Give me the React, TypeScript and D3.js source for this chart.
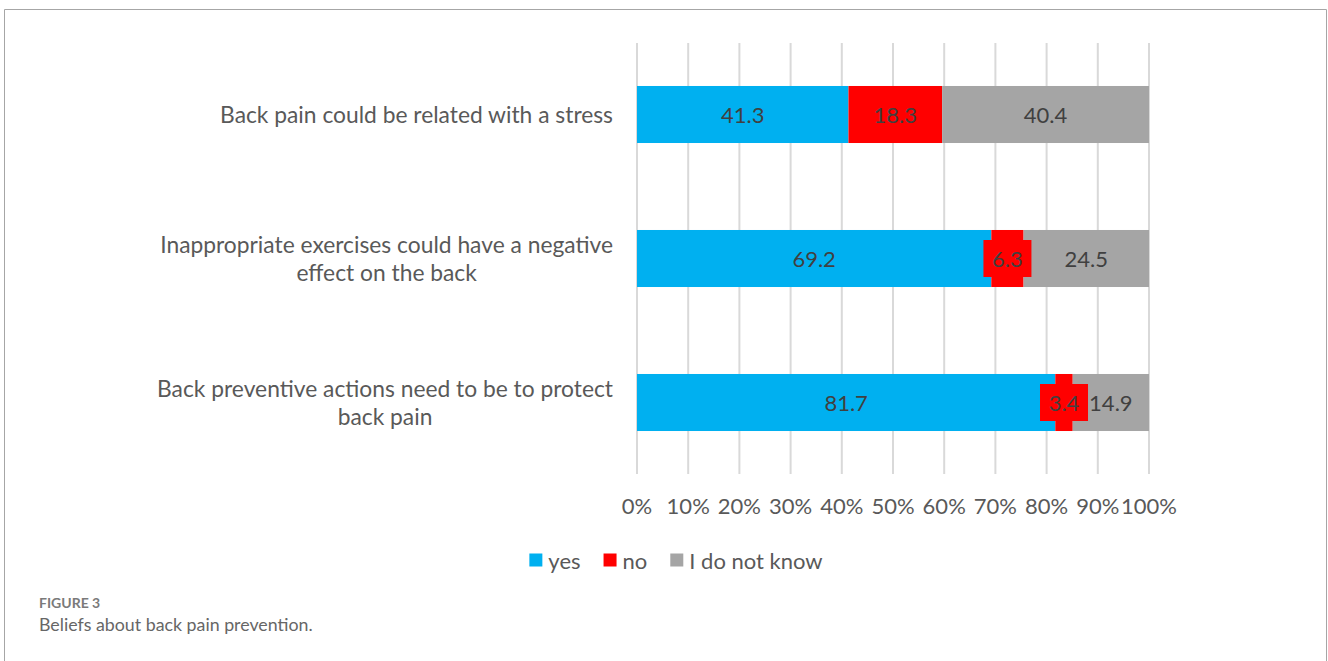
import React, { useEffect, useRef } from "react";
import * as d3 from "d3";

const categoryLines: string[][] = [
  ["Back pain could be related with a stress"],
  ["Inappropriate exercises could have a negative", "effect on the back"],
  ["Back preventive actions need to be to protect", "back pain"],
];
const seriesNames = ["yes", "no", "I do not know"];
const yesValues = [41.3, 69.2, 81.7];
const noValues = [18.3, 6.3, 3.4];
const dontKnowValues = [40.4, 24.5, 14.9];
const tickValues = [0, 10, 20, 30, 40, 50, 60, 70, 80, 90, 100];
const seriesColors = ["#00B0F0", "#FF0000", "#A5A5A5"];
const figureLabel = "FIGURE 3";
const captionText = "Beliefs about back pain prevention.";

const W = 1328;
const H = 661;
const FONT = "Lato, 'Open Sans', sans-serif";

export default function App() {
  const ref = useRef<SVGSVGElement | null>(null);

  useEffect(() => {
    const svg = d3.select(ref.current);
    svg.selectAll("*").remove();

    const rows = categoryLines.map((lines, i) => ({
      key: String(i),
      lines,
      yes: yesValues[i],
      no: noValues[i],
      dk: dontKnowValues[i],
    }));
    const keys = ["yes", "no", "dk"];

    const x = d3.scaleLinear().domain([0, 100]).range([637, 1149]);
    const y = d3
      .scaleBand<string>()
      .domain(rows.map((r) => r.key))
      .range([42.5, 474.5])
      .paddingInner(0.604)
      .paddingOuter(0.302);

    // frame
    svg
      .append("path")
      .attr("d", `M4.5,${H} V9.5 H1326.5 V${H}`)
      .attr("fill", "none")
      .attr("stroke", "#a6a6a6")
      .attr("stroke-width", 1);

    // gridlines
    svg
      .append("g")
      .selectAll("line")
      .data(tickValues)
      .join("line")
      .attr("x1", (d) => x(d))
      .attr("x2", (d) => x(d))
      .attr("y1", 43)
      .attr("y2", 474)
      .attr("stroke", "#D9D9D9")
      .attr("stroke-width", 2);

    // bars
    const stack = d3.stack<any>().keys(keys)(rows);
    const gBars = svg.append("g");
    stack.forEach((layer, si) => {
      gBars
        .append("g")
        .attr("fill", seriesColors[si])
        .selectAll("rect")
        .data(layer)
        .join("rect")
        .attr("x", (d) => x(d[0]))
        .attr("width", (d) => x(d[1]) - x(d[0]))
        .attr("y", (d: any) => y(d.data.key)!)
        .attr("height", y.bandwidth());
    });

    // data labels
    const gLab = svg.append("g");
    stack.forEach((layer, si) => {
      layer.forEach((d: any) => {
        const cx = x((d[0] + d[1]) / 2);
        const cy = y(d.data.key)! + y.bandwidth() / 2;
        const val = d[1] - d[0];
        if (si === 1) {
          gLab
            .append("rect")
            .attr("x", cx - 24)
            .attr("y", cy - 18.5)
            .attr("width", 48)
            .attr("height", 37)
            .attr("fill", seriesColors[1]);
        }
        gLab
          .append("text")
          .attr("x", cx)
          .attr("y", cy)
          .attr("text-anchor", "middle")
          .attr("dominant-baseline", "central")
          .attr("font-family", FONT)
          .attr("font-size", 22)
          .attr("fill", "#404040")
          .text(d3.format(".1f")(val));
      });
    });

    // category labels (centered block, right edge at 613)
    const gCat = svg.append("g");
    rows.forEach((r) => {
      const cy = y(r.key)! + y.bandwidth() / 2 - 1;
      const t = gCat
        .append("text")
        .attr("font-family", FONT)
        .attr("font-size", 22.8)
        .attr("fill", "#595959")
        .attr("text-anchor", "middle");
      const spans = r.lines.map((line, li) =>
        t
          .append("tspan")
          .attr("y", cy + (li - (r.lines.length - 1) / 2) * 28)
          .attr("dominant-baseline", "central")
          .text(line)
      );
      let maxW = 0;
      spans.forEach((s) => {
        const n = s.node() as SVGTextContentElement;
        maxW = Math.max(maxW, n.getComputedTextLength());
      });
      const cx = 613 - maxW / 2;
      spans.forEach((s) => s.attr("x", cx));
    });

    // x tick labels
    svg
      .append("g")
      .selectAll("text")
      .data(tickValues)
      .join("text")
      .attr("x", (d) => x(d))
      .attr("y", 505)
      .attr("text-anchor", "middle")
      .attr("dominant-baseline", "central")
      .attr("font-family", FONT)
      .attr("font-size", 22)
      .attr("fill", "#595959")
      .text((d) => `${d}%`);

    // legend
    const gLeg = svg.append("g");
    const items = seriesNames.map((name, i) => {
      const g = gLeg.append("g");
      g.append("rect")
        .attr("x", 0)
        .attr("y", 553.5)
        .attr("width", 13)
        .attr("height", 13)
        .attr("fill", seriesColors[i]);
      const t = g
        .append("text")
        .attr("x", 19)
        .attr("y", 560)
        .attr("dominant-baseline", "central")
        .attr("font-family", FONT)
        .attr("font-size", 22)
        .attr("fill", "#595959")
        .text(name);
      const w = 19 + (t.node() as SVGTextContentElement).getComputedTextLength();
      return { g, w };
    });
    const gap = 23;
    const total = d3.sum(items, (d) => d.w) + gap * (items.length - 1);
    let lx = 676 - total / 2;
    items.forEach((it) => {
      it.g.attr("transform", `translate(${lx},0)`);
      lx += it.w + gap;
    });

    // caption
    svg
      .append("text")
      .attr("x", 39)
      .attr("y", 608)
      .attr("font-family", FONT)
      .attr("font-size", 14)
      .attr("font-weight", 700)
      .attr("fill", "#7a7a7a")
      .text(figureLabel);
    svg
      .append("text")
      .attr("x", 39)
      .attr("y", 631)
      .attr("font-family", FONT)
      .attr("font-size", 17.8)
      .attr("fill", "#666666")
      .text(captionText);
  }, []);

  return (
    <svg
      ref={ref}
      width={W}
      height={H}
      style={{ position: "absolute", left: 0, top: 0, background: "#fff" }}
    />
  );
}
